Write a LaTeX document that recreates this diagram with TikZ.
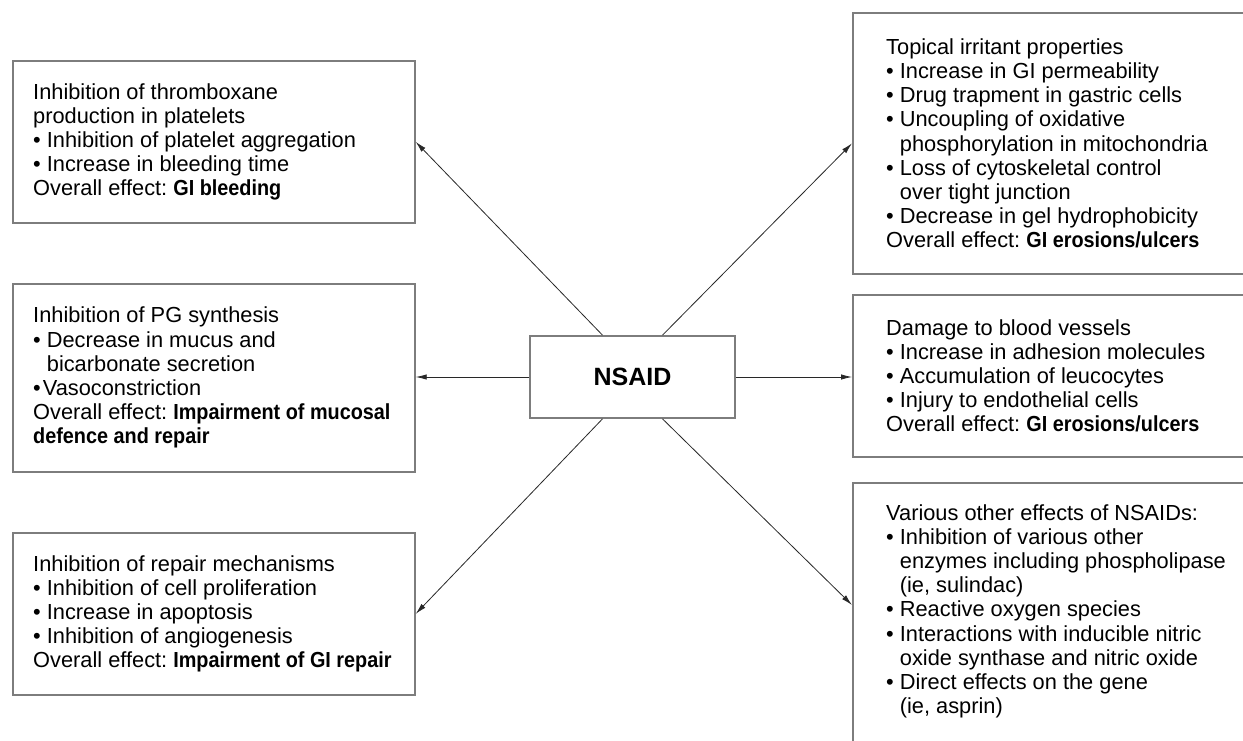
\documentclass[tikz,border=0pt]{standalone}
\usepackage{fontspec}
\setmainfont{Liberation Sans}
\newfontfamily\bnfont{Liberation Sans Bold}[FakeStretch=0.91]
\usetikzlibrary{arrows.meta}
\definecolor{boxline}{RGB}{125,125,125}
\definecolor{arrline}{RGB}{40,40,40}
\newcommand{\bl}{\textbullet\ }
\newcommand{\ind}{\hphantom{\textbullet\ }}
\newcommand{\eff}[1]{{\bnfont #1}}
\frenchspacing
\tikzset{
  infobox/.style={draw=boxline, line width=1.7pt, anchor=north west, inner sep=0pt},
  leftbox/.style={infobox, minimum width=402pt},
  rightbox/.style={infobox, minimum width=392pt},
  infotext/.style={align=left, inner sep=0pt, font=\fontsize{21.8}{24.2}\selectfont},
  centerbox/.style={draw=boxline, line width=1.7pt, font=\fontsize{25}{28}\selectfont\bfseries,
    minimum width=205pt, minimum height=82pt},
  arr/.style={draw=arrline, line width=0.8pt, -{Latex[length=11pt,width=5.5pt]}}
}
\begin{document}
\begin{tikzpicture}[x=1pt,y=-1pt]
\useasboundingbox (0,0) rectangle (1243,740);
\fill[white] (0,0) rectangle (1243,740);

\node[centerbox] (nsaid) at (632.5,377) {NSAID};

% left column
\node[leftbox, minimum height=162pt] (tl) at (12,60) {};
\node[infotext, anchor=west] (tltext) at ([xshift=21pt]tl.west) {Inhibition of thromboxane\\
production in platelets\\
\bl Inhibition of platelet aggregation\\
\bl Increase in bleeding time\\
Overall effect: \eff{GI bleeding}};

\node[leftbox, minimum height=188pt] (ml) at (12,283) {};
\node[infotext, anchor=west] (mltext) at ([xshift=21pt]ml.west) {Inhibition of PG synthesis\\
\bl Decrease in mucus and\\
\ind bicarbonate secretion\\
\textbullet\kern2pt Vasoconstriction\\
Overall effect: \eff{Impairment of mucosal}\\
\eff{defence and repair}};

\node[leftbox, minimum height=162pt] (bl) at (12,532) {};
\node[infotext, anchor=west] (bltext) at ([xshift=21pt]bl.west) {Inhibition of repair mechanisms\\
\bl Inhibition of cell proliferation\\
\bl Increase in apoptosis\\
\bl Inhibition of angiogenesis\\
Overall effect: \eff{Impairment of GI repair}};

% right column
\node[rightbox, minimum height=261pt] (tr) at (852,12) {};
\node[infotext, anchor=west] (trtext) at ([xshift=34pt]tr.west) {Topical irritant properties\\
\bl Increase in GI permeability\\
\bl Drug trapment in gastric cells\\
\bl Uncoupling of oxidative\\
\ind phosphorylation in mitochondria\\
\bl Loss of cytoskeletal control\\
\ind over tight junction\\
\bl Decrease in gel hydrophobicity\\
Overall effect: \eff{GI erosions/ulcers}};

\node[rightbox, minimum height=162pt] (mr) at (852,294) {};
\node[infotext, anchor=west] (mrtext) at ([xshift=34pt]mr.west) {Damage to blood vessels\\
\bl Increase in adhesion molecules\\
\bl Accumulation of leucocytes\\
\bl Injury to endothelial cells\\
Overall effect: \eff{GI erosions/ulcers}};

\node[rightbox, minimum height=280pt] (br) at (852,482) {};
\node[infotext, anchor=north west] (brtext) at ([xshift=34pt,yshift=-22pt]br.north west) {Various other effects of NSAIDs:\\
\bl Inhibition of various other\\
\ind enzymes including phospholipase\\
\ind (ie, sulindac)\\
\bl Reactive oxygen species\\
\bl Interactions with inducible nitric\\
\ind oxide synthase and nitric oxide\\
\bl Direct effects on the gene\\
\ind (ie, asprin)};

\coordinate (brin) at (br.west |- 0,605);

\draw[arr] ([xshift=-30pt]nsaid.north) -- (tl.east);
\draw[arr] ([xshift=30pt]nsaid.north) -- (tr.west);
\draw[arr] (nsaid.west) -- (nsaid.west -| ml.east);
\draw[arr] (nsaid.east) -- (nsaid.east -| mr.west);
\draw[arr] ([xshift=-30pt]nsaid.south) -- (bl.east);
\draw[arr] ([xshift=30pt]nsaid.south) -- (brin);
\end{tikzpicture}
\end{document}
